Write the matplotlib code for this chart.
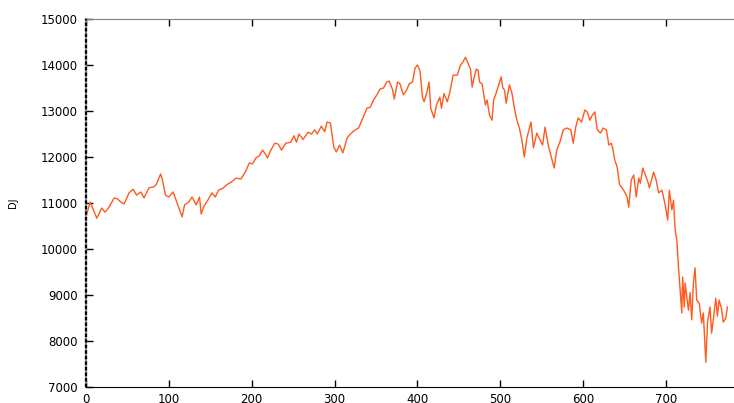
import numpy as np
import matplotlib
matplotlib.use('Agg')
import matplotlib.pyplot as plt


# trading-day index and Dow Jones value
day = [0, 5, 13, 19, 23, 27, 34, 38, 42, 46, 52, 57, 61, 66, 70, 76, 82, 85,
       90, 92, 96, 100, 105, 110, 116, 119, 124, 128, 133, 137, 139, 142,
       148, 152, 156, 160, 165, 170, 175, 181, 187, 193, 197, 201, 205, 209,
       213, 217, 219, 223, 228, 232, 236, 241, 247, 251, 254, 257, 262, 268,
       272, 276, 279, 284, 288, 291, 295, 299, 302, 306, 310, 315, 318, 322,
       326, 329, 333, 339, 343, 347, 351, 355, 359, 363, 366, 370, 372, 376,
       379, 383, 387, 390, 394, 397, 400, 403, 406, 408, 411, 414, 416, 420,
       423, 427, 429, 432, 436, 439, 443, 448, 452, 455, 458, 461, 464, 466,
       468, 471, 473, 475, 478, 482, 484, 487, 490, 492, 495, 501, 503, 505,
       507, 511, 514, 517, 520, 523, 526, 529, 532, 537, 540, 544, 548, 551,
       554, 558, 565, 568, 572, 576, 580, 585, 588, 591, 594, 598, 602, 605,
       608, 611, 614, 617, 621, 624, 628, 631, 634, 636, 638, 641, 644, 647,
       650, 653, 655, 658, 661, 664, 667, 669, 672, 675, 678, 680, 683, 685,
       688, 691, 695, 699, 702, 704, 707, 709, 711, 713, 715, 717, 719, 720,
       722, 723, 725, 727, 729, 731, 733, 735, 737, 740, 743, 745, 748, 750,
       753, 755, 758, 760, 762, 764, 767, 769, 772, 774]

dj = [10700, 11020, 10670, 10890, 10800, 10890, 11110, 11090, 11020, 10980,
      11220, 11300, 11170, 11240, 11110, 11330, 11350, 11410, 11630, 11520,
      11170, 11130, 11240, 11000, 10700, 10960, 11020, 11130, 10960, 11130,
      10760, 10920, 11090, 11220, 11130, 11280, 11320, 11400, 11450, 11540,
      11520, 11700, 11870, 11850, 11980, 12020, 12150, 12050, 11980, 12150,
      12300, 12280, 12150, 12300, 12320, 12460, 12320, 12500, 12380, 12540,
      12500, 12590, 12500, 12670, 12550, 12760, 12740, 12220, 12110, 12260,
      12090, 12410, 12480, 12550, 12600, 12630, 12800, 13060, 13080, 13240,
      13350, 13480, 13500, 13630, 13650, 13460, 13260, 13630, 13590, 13350,
      13460, 13590, 13630, 13930, 14000, 13880, 13300, 13200, 13380, 13630,
      13060, 12850, 13140, 13300, 13060, 13380, 13200, 13400, 13780, 13780,
      14000, 14070, 14170, 14040, 13910, 13520, 13700, 13910, 13890, 13630,
      13590, 13130, 13240, 12910, 12800, 13240, 13390, 13740, 13500, 13460,
      13170, 13570, 13390, 13060, 12800, 12630, 12370, 12000, 12410, 12760,
      12200, 12520, 12370, 12260, 12650, 12240, 11760, 12150, 12330, 12590,
      12630, 12590, 12300, 12650, 12850, 12760, 13020, 12980, 12800, 12910,
      12980, 12590, 12520, 12630, 12590, 12260, 12300, 12150, 11940, 11780,
      11390, 11330, 11240, 11130, 10910, 11500, 11610, 11130, 11540, 11430,
      11760, 11610, 11460, 11330, 11540, 11670, 11500, 11220, 11280, 10960,
      10630, 11280, 10850, 11060, 10410, 10200, 9610, 9110, 8610, 9390,
      8740, 9260, 8960, 8670, 9050, 8460, 9260, 9590, 8890, 8820,
      8390, 8610, 7540, 8390, 8740, 8170, 8610, 8930, 8540, 8890,
      8700, 8410, 8490, 8740]

x_ticks = [0, 100, 200, 300, 400, 500, 600, 700]
y_ticks = [7000, 8000, 9000, 10000, 11000, 12000, 13000, 14000, 15000]

fig = plt.figure(figsize=(7.34, 4.03), dpi=100)
ax = fig.add_axes([86 / 734, 1 - 387 / 403, 1 - 86 / 734, 368 / 403])

ax.plot(day, dj, color='#ff5a1f', linewidth=1.0)

ax.set_xlim(0, 782)
ax.set_ylim(7000, 15000)
ax.set_xticks(x_ticks)
ax.set_yticks(y_ticks)

ax.tick_params(axis='both', direction='in', length=5, width=1,
               labelsize=8.5, colors='black')
ax.tick_params(axis='x', top=True, pad=4)
ax.tick_params(axis='y', pad=6)

ax.spines['right'].set_visible(False)
ax.spines['top'].set_color('#808080')
ax.spines['bottom'].set_color('black')

# left axis drawn as a grey line with black dashes on top
ax.spines['left'].set_color('#8a8a8a')
ax.spines['left'].set_linewidth(1.6)
ax.plot([0, 0], [7000, 15000], color='black', linewidth=1.6,
        linestyle=(0, (1.5, 1.0)), clip_on=False, zorder=5)

ax.set_ylabel('DJ', fontsize=7)
ax.yaxis.set_label_coords(-0.105, 0.5)

fig.savefig('out.png', dpi=100)
